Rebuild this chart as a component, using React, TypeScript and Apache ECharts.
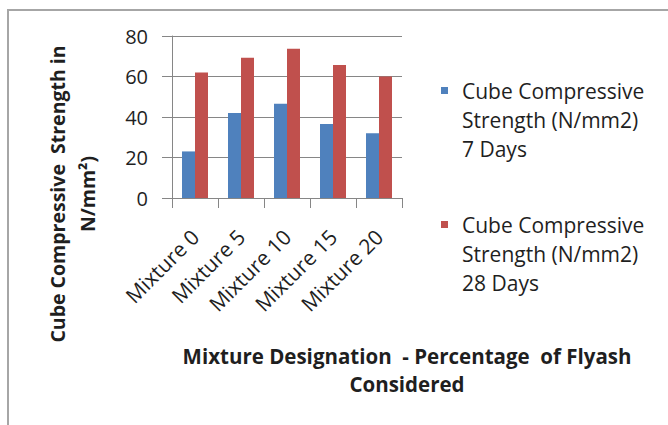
import React, { useEffect, useRef } from "react";
import * as echarts from "echarts";

const categories = ["Mixture 0", "Mixture 5", "Mixture 10", "Mixture 15", "Mixture 20"];
const days7 = [23, 42, 46.5, 36.5, 32];
const days28 = [62, 69.3, 73.7, 65.7, 60];
const yTicks = { min: 0, max: 80, interval: 20 };
const series7Name = "Cube Compressive\nStrength (N/mm2)\n7 Days";
const series28Name = "Cube Compressive\nStrength (N/mm2)\n28 Days";
const yTitle = "Cube Compressive  Strength in\nN/mm\u00b2)";
const xTitle = "Mixture Designation  - Percentage  of Flyash\nConsidered";

const FONT = "'Open Sans', 'Noto Sans', sans-serif";
const TEXT = "#1f1f1f";
const GRID = "#868686";

export default function App() {
  const ref = useRef<HTMLDivElement>(null);
  useEffect(() => {
    document.body.style.margin = "0";
    if (!ref.current) return;
    const chart = echarts.init(ref.current, undefined, { renderer: "svg" });
    const legendText = {
      fontFamily: FONT,
      fontSize: 21,
      color: TEXT,
      lineHeight: 29,
    };
    const legendBase = {
      orient: "vertical",
      left: 441,
      padding: 0,
      itemWidth: 16,
      itemHeight: 7,
      icon: "path://M0,0L7,0L7,7L0,7Z M16,0L16,0",
      selectedMode: false,
      textStyle: legendText,
      formatter: (name: string) => "\n\n" + name,
    };
    chart.setOption({
      animation: false,
      backgroundColor: "#ffffff",
      grid: { left: 172, top: 36, width: 230, height: 162, containLabel: false },
      legend: [
        { ...legendBase, data: [series7Name], top: 18 },
        { ...legendBase, data: [series28Name], top: 152 },
      ],
      xAxis: {
        type: "category",
        data: categories,
        boundaryGap: true,
        axisLine: { show: true, lineStyle: { color: GRID, width: 1 } },
        axisTick: { show: true, length: 10, inside: false, interval: 0, lineStyle: { color: GRID } },
        axisLabel: {
          interval: 0,
          rotate: 45,
          margin: 35,
          fontFamily: FONT,
          fontSize: 21,
          color: TEXT,
        },
      },
      yAxis: {
        type: "value",
        min: yTicks.min,
        max: yTicks.max,
        interval: yTicks.interval,
        axisLine: { show: true, lineStyle: { color: GRID, width: 1 } },
        axisTick: { show: true, length: 10, inside: false, lineStyle: { color: GRID } },
        splitLine: { show: true, lineStyle: { color: GRID, width: 1 } },
        axisLabel: { margin: 24, fontFamily: FONT, fontSize: 20, color: TEXT },
      },
      series: [
        {
          name: series7Name,
          type: "bar",
          data: days7,
          barWidth: 13,
          barGap: "0%",
          itemStyle: { color: "#4F81BD" },
        },
        {
          name: series28Name,
          type: "bar",
          data: days28,
          barWidth: 13,
          barGap: "0%",
          itemStyle: { color: "#C0504D" },
        },
      ],
      graphic: [
        {
          type: "rect",
          shape: { x: 8, y: 10, width: 700, height: 460 },
          style: { fill: "none", stroke: "#a6a6a6", lineWidth: 2 },
          silent: true,
        },
        {
          type: "text",
          x: 72,
          y: 194,
          rotation: Math.PI / 2,
          style: {
            text: yTitle,
            align: "center",
            verticalAlign: "middle",
            fontFamily: FONT,
            fontWeight: "bold",
            fontSize: 19.5,
            lineHeight: 30,
            fill: TEXT,
          },
        },
        {
          type: "text",
          x: 407,
          y: 370,
          style: {
            text: xTitle,
            align: "center",
            verticalAlign: "middle",
            fontFamily: FONT,
            fontWeight: "bold",
            fontSize: 20.5,
            lineHeight: 28,
            fill: TEXT,
          },
        },
      ],
    });
    return () => chart.dispose();
  }, []);
  return <div ref={ref} style={{ width: 668, height: 425 }} />;
}
